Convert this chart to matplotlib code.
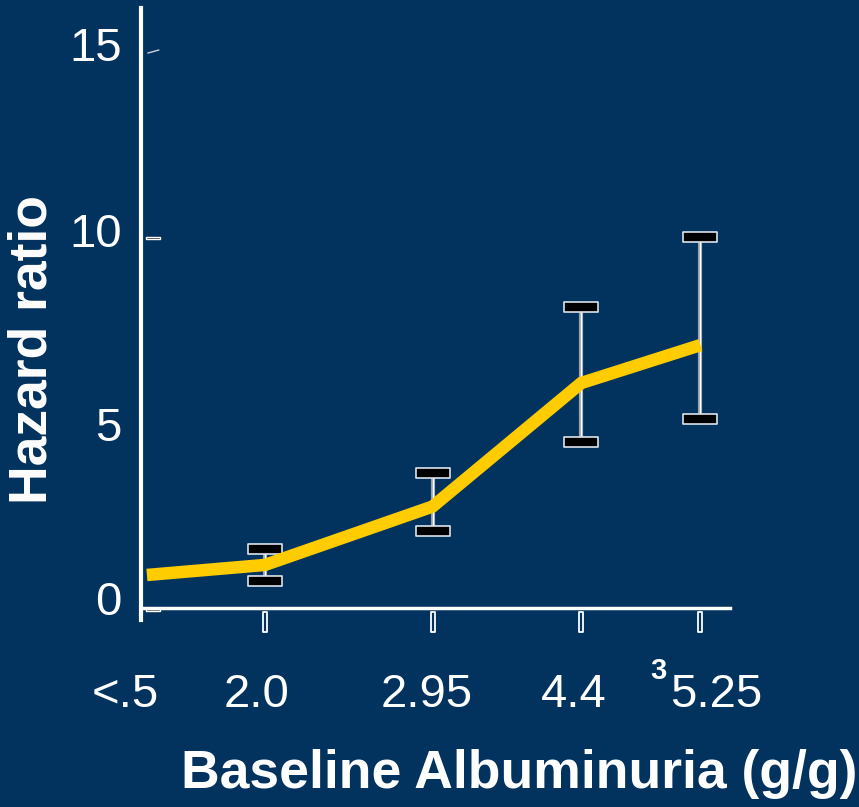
import matplotlib
matplotlib.use("Agg")
import matplotlib.pyplot as plt
from matplotlib.path import Path
from matplotlib.transforms import blended_transform_factory, ScaledTranslation

plt.rcParams['font.family'] = ['Liberation Sans', 'DejaVu Sans']

# Data
categories = ["<.5", "2.0", "2.95", "4.4", "5.25"]
x_pos = [0, 1, 2.42, 3.68, 4.69]          # category positions along the axis
label_pos = [-0.18, 0.93, 2.37, 3.62, 4.82]  # where the category labels sit
hazard = [0.94, 1.21, 2.78, 6.1, 7.12]
ci_x = [1, 2.42, 3.68, 4.69]
ci_low = [0.78, 2.12, 4.52, 5.13]
ci_high = [1.64, 3.68, 8.15, 10.03]
yticks = [0, 5, 10, 15]

bg = '#02335F'
yellow = '#FFCC00'

fig = plt.figure(figsize=(8.59, 8.07), dpi=100, facecolor=bg)
ax = fig.add_axes([141 / 859, 187 / 807, (730 - 141) / 859, 612 / 807])
ax.set_facecolor(bg)
ax.set_xlim(-0.05, 4.94)
ax.set_ylim(-0.27, 16.18)

# error bars: thin grey/white line with black boxed caps
cap = Path([(-1.75, -0.5), (1.75, -0.5), (1.75, 0.5), (-1.75, 0.5), (-1.75, -0.5)],
           [Path.MOVETO, Path.LINETO, Path.LINETO, Path.LINETO, Path.CLOSEPOLY])
ax.vlines(ci_x, ci_low, ci_high, color='#9aa3ad', lw=3, zorder=2)
ax.vlines(ci_x, ci_low, ci_high, color='white', lw=1, zorder=2)
ax.plot(ci_x, ci_low, ls='none', marker=cap, ms=25, mfc='black', mec='#dde3ea', mew=1.2, zorder=3)
ax.plot(ci_x, ci_high, ls='none', marker=cap, ms=25, mfc='black', mec='#dde3ea', mew=1.2, zorder=3)

# hazard ratio line
ax.plot(x_pos, hazard, color=yellow, lw=9, solid_capstyle='butt', solid_joinstyle='miter', zorder=4)

# spines
for s in ['top', 'right']:
    ax.spines[s].set_visible(False)
ax.spines['left'].set_color('white')
ax.spines['left'].set_linewidth(3)
ax.spines['bottom'].set_color('white')
ax.spines['bottom'].set_linewidth(2.5)
ax.spines['bottom'].set_position(('data', 0.05))

# y ticks
ax.set_yticks(yticks)
ax.set_yticklabels([str(v) for v in yticks], fontsize=34, color='white')
ax.tick_params(axis='y', length=0, pad=14)
for lab in ax.get_yticklabels():
    up = 0.12 if lab.get_text() == '0' else (0.0 if lab.get_text() == '5' else 0.08)
    lab.set_transform(lab.get_transform() + ScaledTranslation(0, up, fig.dpi_scale_trans))
ytr = blended_transform_factory(ax.transAxes, ax.transData)
tick_rect = Path([(-1.8, -0.35), (1.8, -0.35), (1.8, 0.35), (-1.8, 0.35), (-1.8, -0.35)],
                 [Path.MOVETO, Path.LINETO, Path.LINETO, Path.LINETO, Path.CLOSEPOLY])
ax.plot([0.021, 0.021], [0, 10], transform=ytr, ls='none', marker=tick_rect, ms=10,
        mfc='black', mec='white', mew=1, clip_on=False)
ax.plot([0.012, 0.03], [14.97, 15.05], transform=ytr, color='#c9d2dc', lw=1, clip_on=False)

# x ticks: thin outlined bars hanging below the axis
xtr = blended_transform_factory(ax.transData, ax.transAxes)
bar = Path([(-0.12, -0.5), (0.12, -0.5), (0.12, 0.5), (-0.12, 0.5), (-0.12, -0.5)],
           [Path.MOVETO, Path.LINETO, Path.LINETO, Path.LINETO, Path.CLOSEPOLY])
ax.plot(x_pos[1:], [-0.004] * 4, transform=xtr, ls='none', marker=bar, ms=15,
        mfc=bg, mec='white', mew=1.3, clip_on=False)
ax.set_xticks([])

for xp, lab in zip(label_pos, categories):
    ax.text(xp, -0.1225, lab, transform=xtr, ha='center', va='center',
            fontsize=34, color='white')
ax.text(4.33, -0.084, '3', transform=xtr, ha='center', va='center',
        fontsize=21, fontweight='bold', color='white')

fig.text(857 / 859, 33 / 807, 'Baseline Albuminuria (g/g)', ha='right', va='center',
         fontsize=38.5, fontweight='bold', color='white')
fig.text(33 / 859, 458 / 807, 'Hazard ratio', ha='center', va='center', rotation=90,
         fontsize=38.5, fontweight='bold', color='white')

fig.savefig('out.png', dpi=100, facecolor=bg)
